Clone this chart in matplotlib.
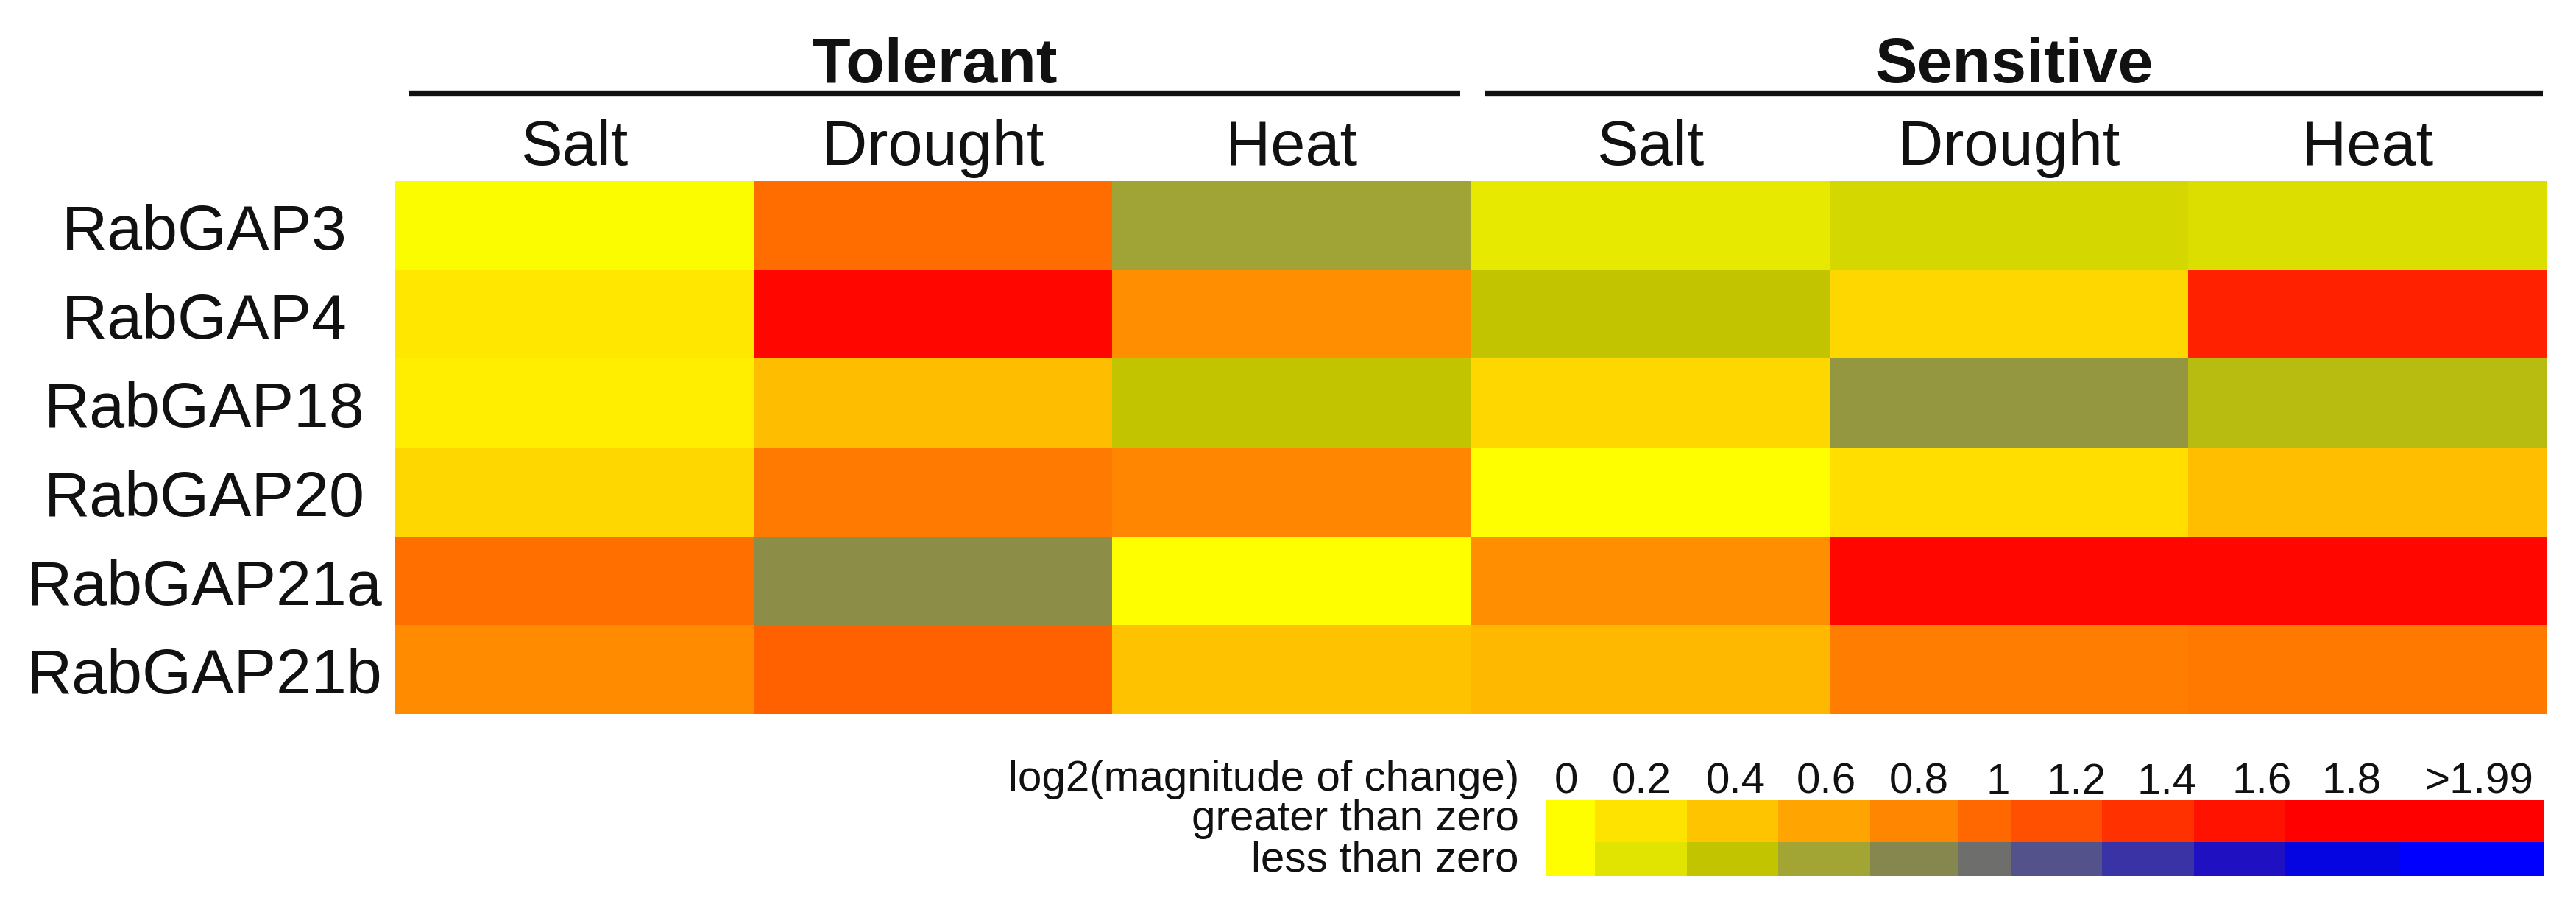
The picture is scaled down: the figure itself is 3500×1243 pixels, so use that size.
import matplotlib
matplotlib.use("Agg")
import matplotlib.pyplot as plt
import numpy as np
from matplotlib import font_manager
from matplotlib.colors import LinearSegmentedColormap, Normalize

genes = ["RabGAP3", "RabGAP4", "RabGAP18", "RabGAP20", "RabGAP21a", "RabGAP21b"]
stresses = ["Salt", "Drought", "Heat"]
groups = ["Tolerant", "Sensitive"]

# log2 fold change, rows = genes, cols = Salt / Drought / Heat
tolerant = [
    [-0.03, 0.97, -0.62],
    [0.17, 1.72, 0.74],
    [0.12, 0.44, -0.40],
    [0.27, 0.89, 0.80],
    [0.96, -0.76, 0.00],
    [0.77, 1.07, 0.41],
]
sensitive = [
    [-0.15, -0.27, -0.23],
    [-0.40, 0.27, 1.51],
    [0.27, -0.70, -0.46],
    [0.00, 0.23, 0.43],
    [0.74, 1.72, 1.72],
    [0.47, 0.86, 0.90],
]

legend_labels = ["0", "0.2", "0.4", "0.6", "0.8", "1", "1.2", "1.4", "1.6", "1.8", ">1.99"]
legend_up = [0.0, 0.2, 0.4, 0.6, 0.8, 1.0, 1.2, 1.4, 1.6, 1.8, 2.0]
legend_down = [-v for v in legend_up]

# colour stops of the scale, -2 (blue) .. 0 (yellow) .. +2 (red)
scale_stops = [
    (-2.0, "#0000FF"), (-1.8, "#0505E0"), (-1.6, "#2010C0"), (-1.4, "#3A34A4"),
    (-1.2, "#54528A"), (-1.0, "#6E6E6E"), (-0.8, "#87884D"), (-0.6, "#A3A633"),
    (-0.4, "#C2C400"), (-0.2, "#E0E200"), (0.0, "#FFFF00"), (0.2, "#FFE200"),
    (0.4, "#FFC400"), (0.6, "#FFA500"), (0.8, "#FF8700"), (1.0, "#FF6A00"),
    (1.2, "#FF4F00"), (1.4, "#FF3200"), (1.6, "#FF1400"), (1.8, "#FF0000"),
    (2.0, "#FF0000"),
]

W, H = 3500, 1243
TEXT = "#111111"
plt.rcParams["font.family"] = ["Liberation Sans", "DejaVu Sans"]

available = {f.name for f in font_manager.fontManager.ttflist}
if "Liberation Sans Narrow" in available:
    legend_family, legend_size = ["Liberation Sans Narrow", "Liberation Sans"], 50
else:
    legend_family, legend_size = ["Liberation Sans", "DejaVu Sans"], 42

cmap = LinearSegmentedColormap.from_list(
    "gap", [((v + 2.0) / 4.0, c) for v, c in scale_stops]
)
norm = Normalize(-2.0, 2.0)

fig = plt.figure(figsize=(W / 100, H / 100), dpi=100)

# heatmap, pixel box 537..3460 x 246..970
ax = fig.add_axes([537 / W, 1 - 970 / H, (3460 - 537) / W, (970 - 246) / H])
values = np.hstack([np.array(tolerant), np.array(sensitive)])
ax.pcolormesh(np.arange(values.shape[1] + 1), np.arange(values.shape[0] + 1), values,
              cmap=cmap, norm=norm, edgecolors="none", antialiased=False)
ax.set_xlim(0, values.shape[1])
ax.set_ylim(values.shape[0], 0)
ax.axis("off")

for j, name in enumerate(stresses * len(groups)):
    ax.text(j + 0.5, -0.18, name, ha="center", va="baseline", fontsize=61, color=TEXT)

for i, name in enumerate(genes):
    ax.text(-0.532, i + 0.77, name, ha="center", va="baseline", fontsize=62, color=TEXT)

n = len(stresses)
for g, name in enumerate(groups):
    x0 = g * n + 0.04
    x1 = (g + 1) * n - (0.03 if g == 0 else 0.01)
    ax.plot([x0, x1], [-0.986, -0.986], color=TEXT, lw=6, solid_capstyle="butt", clip_on=False)
    ax.text((x0 + x1) / 2, -1.11, name, ha="center", va="baseline", fontsize=62,
            fontweight="bold", color=TEXT)

# legend strip, pixel box 2100..3457 x 1087..1190
lax = fig.add_axes([2100 / W, 1 - 1190 / H, 1357 / W, 103 / H])
cell_edges = [0, 67, 192, 316, 441, 561, 633, 756, 881, 1004, 1160, 1357]
row_edges = [0, 46, 103]
lax.pcolormesh(cell_edges, row_edges, np.array([legend_down, legend_up]),
               cmap=cmap, norm=norm, edgecolors="none", antialiased=False)
lax.set_xlim(0, 1357)
lax.set_ylim(0, 103)
lax.axis("off")

label_x = [28, 130, 258, 381, 507, 615, 721, 844, 973, 1095, 1268]
for x, lab in zip(label_x, legend_labels):
    lax.text(x, 112, lab, ha="center", va="baseline", fontsize=legend_size,
             family=legend_family, color=TEXT, clip_on=False)

side = [("log2(magnitude of change)", 116), ("greater than zero", 62), ("less than zero", 7)]
for lab, y in side:
    lax.text(-36, y, lab, ha="right", va="baseline", fontsize=legend_size,
             family=legend_family, color=TEXT, clip_on=False)

fig.savefig("out.png", dpi=100, facecolor="white")
